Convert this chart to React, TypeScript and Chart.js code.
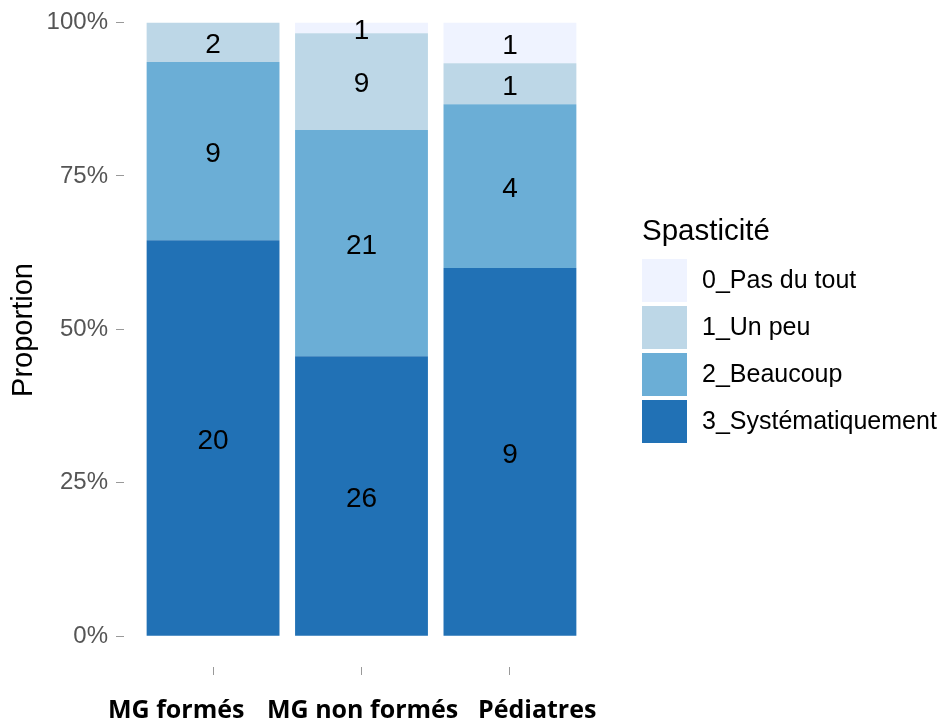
import React, { useEffect, useRef } from "react";
import { Chart, registerables } from "chart.js";

Chart.register(...registerables);

const categories = ["MG formés", "MG non formés", "Pédiatres"];
const levels = ["0_Pas du tout", "1_Un peu", "2_Beaucoup", "3_Systématiquement"];
const colors = ["#eff3ff", "#bdd7e7", "#6baed6", "#2171b5"];
// counts per level (same order as levels), per category
const countsPasDuTout = [0, 1, 1];
const countsUnPeu = [2, 9, 1];
const countsBeaucoup = [9, 21, 4];
const countsSystematiquement = [20, 26, 9];
const yTicks = [0, 0.25, 0.5, 0.75, 1];
const yTickLabels = ["0%", "25%", "50%", "75%", "100%"];
const legendTitle = "Spasticité";
const yTitle = "Proportion";
// left edges of the (hand-placed) category labels in the reference
const categoryLabelLeft = [108, 267, 478];

const countsByLevel = [countsPasDuTout, countsUnPeu, countsBeaucoup, countsSystematiquement];
const totals = categories.map((_, i) => countsByLevel.reduce((s, arr) => s + arr[i], 0));

const labelsPlugin = {
  id: "customDraw",
  afterDatasetsDraw(chart: any) {
    const ctx = chart.ctx;
    ctx.save();
    ctx.font = "28px 'Liberation Sans', Arial, sans-serif";
    ctx.fillStyle = "#000";
    ctx.textAlign = "center";
    ctx.textBaseline = "middle";
    chart.data.datasets.forEach((ds: any, di: number) => {
      const meta = chart.getDatasetMeta(di);
      meta.data.forEach((bar: any, i: number) => {
        const c = ds.counts[i];
        if (!c) return;
        const yc = (bar.y + bar.base) / 2;
        ctx.fillText(String(c), bar.x, yc + 3);
      });
    });
    ctx.restore();
  },
  afterDraw(chart: any) {
    const ctx = chart.ctx;
    ctx.save();
    ctx.font = "29px 'Liberation Sans', Arial, sans-serif";
    ctx.fillStyle = "#000";
    ctx.textAlign = "center";
    ctx.textBaseline = "middle";
    ctx.translate(24, 330);
    ctx.rotate(-Math.PI / 2);
    ctx.fillText(yTitle, 0, 0);
    ctx.restore();

    // category labels
    ctx.save();
    ctx.fillStyle = "#000";
    ctx.textAlign = "left";
    ctx.textBaseline = "alphabetic";
    ctx.font = "bold 25px 'Open Sans', sans-serif";
    categories.forEach((c, i) => {
      ctx.fillText(c, categoryLabelLeft[i], 718);
    });
    ctx.restore();

    ctx.save();
    ctx.fillStyle = "#000";
    ctx.textAlign = "left";
    ctx.textBaseline = "alphabetic";
    ctx.font = "29.5px 'Liberation Sans', Arial, sans-serif";
    ctx.fillText(legendTitle, 642, 240);
    ctx.font = "25px 'Liberation Sans', Arial, sans-serif";
    ctx.textBaseline = "middle";
    levels.forEach((lv, i) => {
      const y0 = 259 + i * 47;
      ctx.fillStyle = colors[i];
      ctx.fillRect(642, y0, 45, 43);
      ctx.fillStyle = "#000";
      ctx.fillText(lv, 702, y0 + 22);
    });
    ctx.restore();
  },
};

export default function App() {
  const ref = useRef<HTMLCanvasElement>(null);
  useEffect(() => {
    if (!ref.current) return;
    const order = [3, 2, 1, 0];
    const datasets = order.map((li) => ({
      label: levels[li],
      data: categories.map((_, i) => ({ x: i + 1, y: countsByLevel[li][i] / totals[i] })),
      counts: countsByLevel[li],
      backgroundColor: colors[li],
      borderWidth: 0,
      categoryPercentage: 0.895,
      barPercentage: 1,
    }));
    const chart = new Chart(ref.current, {
      type: "bar",
      data: { datasets } as any,
      options: {
        animation: false,
        responsive: false,
        layout: { padding: { top: 21, right: 348, left: 0, bottom: 0 } },
        plugins: { legend: { display: false }, tooltip: { enabled: false } },
        scales: {
          x: {
            type: "linear",
            stacked: true,
            offset: false,
            min: 0.4,
            max: 3.6,
            afterBuildTicks: (s: any) => {
              s.ticks = categories.map((_, i) => ({ value: i + 1 }));
            },
            afterFit: (s: any) => {
              s.height = 57;
            },
            ticks: {
              callback: () => "",
              maxRotation: 0,
              autoSkip: false,
            },
            grid: { offset: false, drawOnChartArea: false, drawTicks: true, tickLength: 8, color: "#999", lineWidth: 1 },
            border: { display: false },
          },
          y: {
            stacked: true,
            min: -0.05,
            max: 1,
            afterBuildTicks: (s: any) => {
              s.ticks = yTicks.map((v) => ({ value: v }));
            },
            afterFit: (s: any) => {
              s.width = 124;
            },
            ticks: {
              callback: (v: any) => {
                const idx = yTicks.indexOf(Number(v));
                return idx >= 0 ? yTickLabels[idx] : "";
              },
              font: { family: "'Liberation Sans', Arial, sans-serif", size: 24 },
              color: "#555",
              padding: 8,
            },
            grid: { drawOnChartArea: false, drawTicks: true, tickLength: 8, color: "#999", lineWidth: 1 },
            border: { display: false },
          },
        },
      },
      plugins: [labelsPlugin],
    } as any);
    return () => chart.destroy();
  }, []);
  return (
    <div style={{ position: "fixed", left: 0, top: 0, width: 947, height: 724, background: "#fff" }}>
      <canvas ref={ref} width={947} height={724} style={{ width: 947, height: 724 }} />
    </div>
  );
}
